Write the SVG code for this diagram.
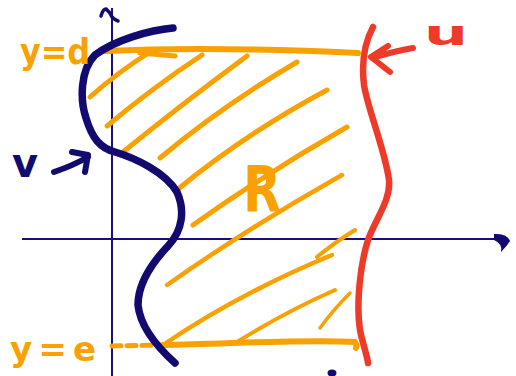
<svg xmlns="http://www.w3.org/2000/svg" width="516" height="376" viewBox="0 0 516 376">
<style>
.axis{fill:none;stroke:#1a0f7a;stroke-width:2}
.navy{fill:none;stroke:#130a70;stroke-linecap:round;stroke-linejoin:round}
.red{fill:none;stroke:#ee3a28;stroke-linecap:round;stroke-linejoin:round}
.or{fill:none;stroke:#f9a100;stroke-linecap:round;stroke-linejoin:round}
.lbl{font-family:"DejaVu Sans",sans-serif;font-weight:bold}
</style>
<rect width="516" height="376" fill="#ffffff"/>
<g id="axes">
<line class="axis" x1="112" y1="8" x2="112" y2="376"/>
<line class="axis" x1="22" y1="239" x2="500" y2="239"/>
<path d="M101,16 Q103,9 106,9 Q110,12 112,17 Q115,20 118,21" fill="none" stroke="#130a70" stroke-width="3.5" stroke-linecap="round"/>
<path d="M494,234 Q507,233 510,241 Q507,246 501,252 Q503,244 494,240 Z" fill="#130a70"/>
</g>
<g id="hatch">
<path class="or" stroke-width="5" d="M90,97 Q118,72 150,52"/>
<path class="or" stroke-width="5" d="M107,126 Q152,88 202,55"/>
<path class="or" stroke-width="5" d="M123,152 Q182,104 247,56"/>
<path class="or" stroke-width="5" d="M160,158 Q222,106 297,62"/>
<path class="or" stroke-width="5" d="M177,190 Q245,134 327,90"/>
<path class="or" stroke-width="5" d="M193,225 Q268,172 347,127"/>
<path class="or" stroke-width="4.5" d="M167,285 Q248,228 342,175"/>
<path class="or" stroke-width="4" d="M317,257 Q335,242 355,230"/>
<path class="or" stroke-width="4.5" d="M163,345 Q238,294 332,255"/>
<path class="or" stroke-width="4" d="M237,342 Q285,312 335,290"/>
<path class="or" stroke-width="3.5" d="M320,328 Q333,310 350,293"/>
</g>
<g id="line-d">
<path class="or" stroke-width="6" d="M105,51 C170,48 250,48 358,53"/>
<path class="or" stroke-width="5" d="M140,53 L175,56"/>
</g>
<g id="line-e">
<path class="or" stroke-width="5" stroke-dasharray="9 6" d="M112,346 L160,345"/>
<path class="or" stroke-width="6" d="M163,345 C230,344 300,339 355,342 Q357,345 356,348"/>
</g>
<g id="curve-v">
<path class="navy" stroke-width="7.5" d="M173,28 C150,30 115,40 95,55 C80,70 80,100 86,118 C92,138 100,148 115,152 C135,158 165,172 177,192 C185,210 183,230 168,246 C150,265 138,285 138,305 C140,325 155,345 175,363"/>
<ellipse cx="332" cy="373" rx="4.5" ry="3.5" fill="#130a70"/>
</g>
<g id="curve-u">
<path class="red" stroke-width="6.5" d="M373,27 C366,40 361,60 364,85 C368,110 385,150 389,180 C391,200 375,220 368,240 C360,265 356,305 360,330 C363,345 367,355 368,363"/>
</g>
<g id="label-v">
<text class="lbl" x="12" y="177" font-size="40" fill="#130a70">v</text>
<path class="navy" stroke-width="6" d="M54,172 Q72,166 88,157 M72,152 L88,155 L85,172"/>
</g>
<g id="label-u">
<text class="lbl" x="424" y="45" font-size="34" fill="#ee3a28" textLength="44" lengthAdjust="spacingAndGlyphs">u</text>
<path class="red" stroke-width="6" d="M413,48 Q395,51 372,58 M388,46 L371,57 L390,72"/>
</g>
<g id="label-d">
<text class="lbl" x="20" y="64" font-size="36" fill="#f9a100" textLength="70" lengthAdjust="spacingAndGlyphs">y=d</text>
</g>
<g id="label-e">
<text class="lbl" x="10" y="361" font-size="34" fill="#f9a100" textLength="86" lengthAdjust="spacing">y=e</text>
</g>
<g id="label-R">
<text class="lbl" x="243" y="212" font-size="64" fill="#f9a100" textLength="38" lengthAdjust="spacingAndGlyphs">R</text>
</g>
</svg>
